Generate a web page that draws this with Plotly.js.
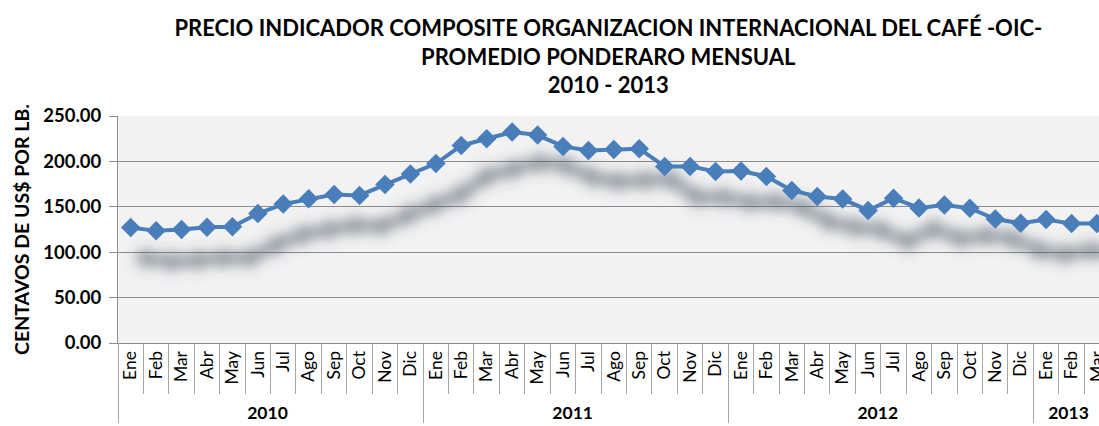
<!DOCTYPE html>
<html>
<head>
<meta charset="utf-8">
<script src="https://cdn.plot.ly/plotly-3.0.1.min.js"></script>
<style>html,body{margin:0;padding:0;background:#fff;}#chart{width:1099px;height:426px;}</style>
</head>
<body>
<div id="chart"></div>
<script>
// ---- data ----
const months = ['Ene','Feb','Mar','Abr','May','Jun','Jul','Ago','Sep','Oct','Nov','Dic'];
const years = ['2010','2011','2012','2013'];
const v2010 = [127.2, 123.5, 125.0, 127.4, 128.0, 142.5, 153.0, 158.8, 163.5, 162.5, 174.6, 186.0];
const v2011 = [197.6, 217.5, 225.0, 232.3, 229.0, 216.5, 212.0, 213.0, 214.0, 194.5, 194.5, 189.0];
const v2012 = [189.5, 183.5, 168.0, 161.3, 158.5, 146.0, 159.5, 148.8, 152.0, 148.4, 136.6, 131.8];
const v2013 = [136.0, 131.5, 131.5];
const yTitle = 'CENTAVOS DE US$ POR LB.';
const titleLines = ['PRECIO INDICADOR COMPOSITE ORGANIZACION INTERNACIONAL DEL CAFÉ -OIC-', 'PROMEDIO PONDERARO MENSUAL', '2010 - 2013'];

// ---- build series ----
const series = [v2010, v2011, v2012, v2013];
const xYear = [], xMonth = [], yVals = [];
series.forEach((arr, yi) => arr.forEach((v, mi) => { xYear.push('<b>' + years[yi] + '</b>'); xMonth.push(months[mi]); yVals.push(v); }));
const idx = yVals.map((_, i) => i);

const blue = '#4a7ebb';
const traces = [];
// carrier trace for the multicategory axis (invisible)
traces.push({x:[xYear, xMonth], y:yVals, type:'scatter', mode:'lines', line:{width:0, color:'rgba(0,0,0,0)'}, hoverinfo:'skip', showlegend:false, xaxis:'x', yaxis:'y'});
// soft shadow (blurred after render)
traces.push({x:idx, y:yVals, type:'scatter', mode:'lines+markers', line:{width:11, color:'rgb(70,84,104)', shape:'spline', smoothing:0.5},
  marker:{symbol:'diamond', size:17, color:'rgb(70,84,104)'}, opacity:0.6, hoverinfo:'skip', showlegend:false, xaxis:'x2', yaxis:'y2'});
// main line
traces.push({x:idx, y:yVals, type:'scatter', mode:'lines+markers', line:{width:4, color:blue}, marker:{symbol:'diamond', size:15, color:blue}, showlegend:false, xaxis:'x3', yaxis:'y3'});

const xr = [-0.5, 38.08];
const yr = [0, 250];
const layout = {
  width:1099, height:426,
  margin:{l:118, r:0, t:116, b:83, pad:0},
  paper_bgcolor:'#ffffff', plot_bgcolor:'#f2f2f2',
  font:{family:'Lato, "Open Sans", sans-serif', color:'#000'},
  title:{text: titleLines.map(t=>'<b>'+t+'</b>').join('<br>'), x:0.5535, xanchor:'center', y:0.915, yanchor:'top', font:{size:22, family:'Lato, sans-serif', color:'#000'}},
  xaxis:{type:'multicategory', range:xr, tickangle:-90, ticks:'outside', ticklen:50, tickcolor:'#a6a6a6', tickwidth:1,
         showdividers:true, dividercolor:'#a6a6a6', dividerwidth:1, showline:true, linecolor:'#8c8c8c', linewidth:1,
         showgrid:false, tickfont:{size:17.5, family:'Lato, sans-serif', color:'#000'}, fixedrange:true},
  yaxis:{range:yr, dtick:50, tickformat:'.2f', ticks:'outside', ticklen:8, tickcolor:'#8c8c8c', showline:true, linecolor:'#8c8c8c', ticklabelstandoff:4,
         gridcolor:'#8c8c8c', gridwidth:1, zeroline:false, tickfont:{size:18.5, family:'Lato, sans-serif', color:'#000', weight:700},
         title:{text:'<b>'+yTitle+'</b>', font:{size:19.5, family:'Lato, sans-serif', color:'#000'}, standoff:8}, fixedrange:true},
  xaxis2:{overlaying:'x', range:[-1.04, 36.29], visible:false, fixedrange:true},
  yaxis2:{overlaying:'y', range:[34, 284], visible:false, fixedrange:true},
  xaxis3:{overlaying:'x', range:xr, visible:false, fixedrange:true},
  yaxis3:{overlaying:'y', range:yr, visible:false, fixedrange:true},
  showlegend:false
};
Plotly.newPlot('chart', traces, layout, {displayModeBar:false, staticPlot:true}).then(gd => {
  const svg = gd.querySelector('svg.main-svg');
  const ns = 'http://www.w3.org/2000/svg';
  let defs = svg.querySelector('defs');
  if (!defs) { defs = document.createElementNS(ns, 'defs'); svg.insertBefore(defs, svg.firstChild); }
  const f = document.createElementNS(ns, 'filter');
  f.setAttribute('id', 'shadowblur');
  f.setAttribute('filterUnits', 'userSpaceOnUse');
  f.setAttribute('x', '0'); f.setAttribute('y', '0'); f.setAttribute('width', '1099'); f.setAttribute('height', '426');
  const b = document.createElementNS(ns, 'feGaussianBlur');
  b.setAttribute('stdDeviation', '5');
  f.appendChild(b); defs.appendChild(f);
  gd.querySelectorAll('g.x2y2 .scatterlayer .trace, g.x2y2 .scatterlayer').forEach(t => t.setAttribute('filter', 'url(#shadowblur)'));
});
</script>
</body>
</html>
